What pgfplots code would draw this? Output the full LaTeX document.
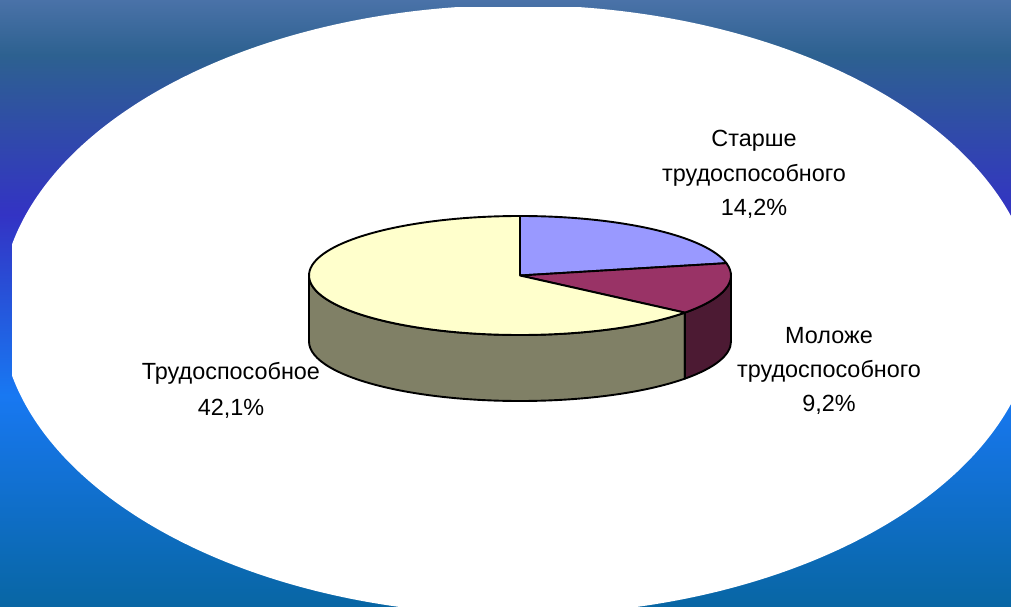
\documentclass[border=0pt]{standalone}
\usepackage{pgfplots}
\pgfplotsset{compat=1.18}
\usepackage{pgfplotstable}
\usepackage{fontspec}
\setmainfont{Liberation Sans}
\definecolor{cOld}{HTML}{9999FF}
\definecolor{cYoung}{HTML}{993366}
\definecolor{cYoungSide}{HTML}{4C1A33}
\definecolor{cWork}{HTML}{FFFFCC}
\definecolor{cWorkSide}{HTML}{808066}
\definecolor{bgA}{HTML}{4A72A8}
\definecolor{bgB}{HTML}{2D6190}
\definecolor{bgC}{HTML}{3333C4}
\definecolor{bgD}{HTML}{1878F2}
\definecolor{bgE}{HTML}{0866A4}

\pgfplotstableread{
group value
old   14.2
young 9.2
work  42.1
}\piedata

\begin{document}%
\begin{tikzpicture}
\pgfplotstablegetelem{0}{value}\of\piedata \pgfmathsetmacro{\vOld}{\pgfplotsretval}
\pgfplotstablegetelem{1}{value}\of\piedata \pgfmathsetmacro{\vYoung}{\pgfplotsretval}
\pgfplotstablegetelem{2}{value}\of\piedata \pgfmathsetmacro{\vWork}{\pgfplotsretval}
\pgfmathsetmacro{\tot}{\vOld+\vYoung+\vWork}
\pgfmathsetmacro{\aB}{90-360*\vOld/\tot}
\pgfmathsetmacro{\aC}{\aB-360*\vYoung/\tot}
\pgfmathsetmacro{\aD}{\aC-360*\vWork/\tot}
\begin{axis}[width=1011pt, height=606pt, scale only axis, hide axis,
  xmin=0, xmax=1011, ymin=0, ymax=606, anchor=south west, at={(0,0)}]
\addplot[draw=none] coordinates {(0,0) (1011,606)};
% background
\shade[top color=bgA, bottom color=bgB] (axis cs:0,606) rectangle (axis cs:1011,551);
\shade[top color=bgB, bottom color=bgC] (axis cs:0,551.5) rectangle (axis cs:1011,391);
\shade[top color=bgC, bottom color=bgD] (axis cs:0,391.5) rectangle (axis cs:1011,211);
\shade[top color=bgD, bottom color=bgE] (axis cs:0,211.5) rectangle (axis cs:1011,0);
\begin{scope}
\clip (axis cs:12,0) rectangle (axis cs:1011,598);
\fill[white] (axis cs:518,296) ellipse[x radius=518pt, y radius=305pt];
\end{scope}
% pie sides
\begin{scope}[line width=1.9pt, line join=round]
\filldraw[fill=cWorkSide] (axis cs:520,330.5) ++(-180:211pt and 59.5pt)
  arc[start angle=-180, end angle=\aC, x radius=211pt, y radius=59.5pt]
  -- ++(0,-66pt)
  arc[start angle=\aC, end angle=-180, x radius=211pt, y radius=59.5pt] -- cycle;
\filldraw[fill=cYoungSide] (axis cs:520,330.5) ++(\aC:211pt and 59.5pt)
  arc[start angle=\aC, end angle=0, x radius=211pt, y radius=59.5pt]
  -- ++(0,-66pt)
  arc[start angle=0, end angle=\aC, x radius=211pt, y radius=59.5pt] -- cycle;
% pie tops
\filldraw[fill=cOld] (axis cs:520,330.5) -- ++(90:211pt and 59.5pt)
  arc[start angle=90, end angle=\aB, x radius=211pt, y radius=59.5pt] -- cycle;
\filldraw[fill=cYoung] (axis cs:520,330.5) -- ++(\aB:211pt and 59.5pt)
  arc[start angle=\aB, end angle=\aC, x radius=211pt, y radius=59.5pt] -- cycle;
\filldraw[fill=cWork] (axis cs:520,330.5) -- ++(\aC:211pt and 59.5pt)
  arc[start angle=\aC, end angle=\aD, x radius=211pt, y radius=59.5pt] -- cycle;
\end{scope}
% labels
\begin{scope}[every node/.style={anchor=base, inner sep=0pt, font=\fontsize{23.4}{28}\selectfont}]
\node at (axis cs:754,459) {Старше};
\node at (axis cs:754,424) {трудоспособного};
\node at (axis cs:754,390) {14,2\%};
\node at (axis cs:829,263) {Моложе};
\node at (axis cs:829,229) {трудоспособного};
\node at (axis cs:829,195) {9,2\%};
\node at (axis cs:231,227) {Трудоспособное};
\node at (axis cs:231,191) {42,1\%};
\end{scope}
\end{axis}
\pgfresetboundingbox
\useasboundingbox (0,0) rectangle (1011pt,606pt);
\end{tikzpicture}%
\end{document}
